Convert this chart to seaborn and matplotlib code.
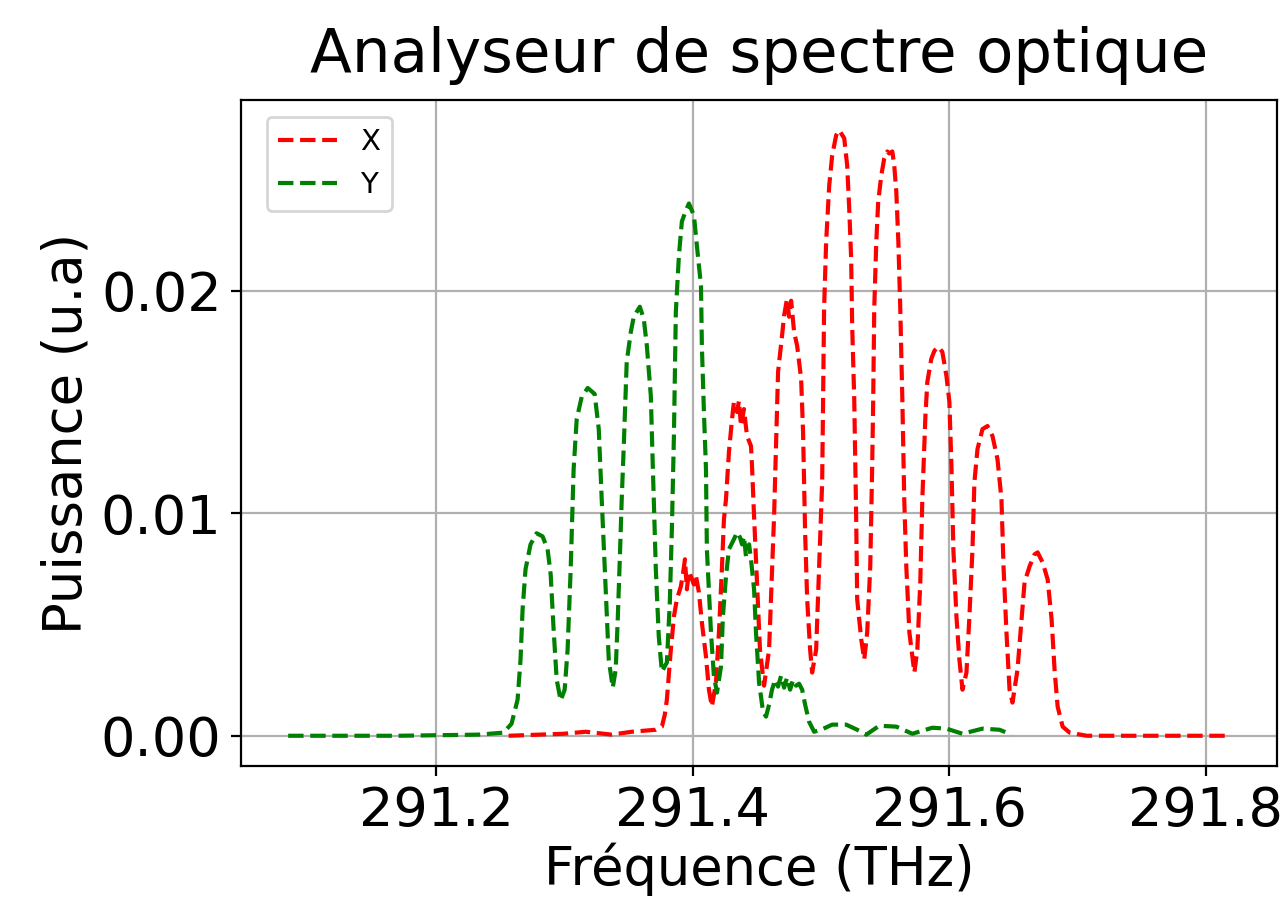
import matplotlib
matplotlib.use("Agg")
import matplotlib.pyplot as plt
import seaborn as sns
import pandas as pd
from matplotlib.ticker import FormatStrFormatter

# ---- data (frequency in THz, power in a.u.) ----
freq_y = [291.0844, 291.1703, 291.2328, 291.2523, 291.2586, 291.2633, 291.2656, 291.2672,
          291.2695, 291.2734, 291.2781, 291.2828, 291.2867, 291.2891, 291.2914, 291.2938,
          291.2969, 291.3000, 291.3023, 291.3047, 291.3070, 291.3094, 291.3133, 291.3180,
          291.3234, 291.3266, 291.3289, 291.3320, 291.3344, 291.3375, 291.3398, 291.3414,
          291.3430, 291.3445, 291.3461, 291.3484, 291.3516, 291.3539, 291.3586, 291.3617,
          291.3641, 291.3672, 291.3688, 291.3711, 291.3734, 291.3758, 291.3797, 291.3820,
          291.3836, 291.3852, 291.3867, 291.3891, 291.3914, 291.3945, 291.3969, 291.4008,
          291.4031, 291.4063, 291.4070, 291.4086, 291.4102, 291.4109, 291.4141, 291.4164,
          291.4188, 291.4219, 291.4234, 291.4258, 291.4281, 291.4320, 291.4344, 291.4367,
          291.4383, 291.4398, 291.4414, 291.4438, 291.4453, 291.4477, 291.4492, 291.4516,
          291.4547, 291.4570, 291.4594, 291.4617, 291.4641, 291.4664, 291.4688, 291.4711,
          291.4734, 291.4758, 291.4781, 291.4805, 291.4828, 291.4852, 291.4875, 291.4906,
          291.4945, 291.5000, 291.5086, 291.5195, 291.5281, 291.5352, 291.5453, 291.5586,
          291.5711, 291.5867, 291.5977, 291.6102, 291.6258, 291.6391, 291.6484]
power_y = [0.00000, 0.00000, 0.00005, 0.00014, 0.00054, 0.00162, 0.00342, 0.00568,
           0.00748, 0.00860, 0.00910, 0.00896, 0.00838, 0.00725, 0.00477, 0.00252,
           0.00158, 0.00207, 0.00387, 0.00748, 0.01198, 0.01423, 0.01523, 0.01563,
           0.01536, 0.01378, 0.01063, 0.00658, 0.00342, 0.00216, 0.00297, 0.00523,
           0.00793, 0.01063, 0.01302, 0.01680, 0.01815, 0.01883, 0.01928, 0.01874,
           0.01752, 0.01527, 0.01198, 0.00748, 0.00446, 0.00288, 0.00329, 0.00599,
           0.00928, 0.01347, 0.01905, 0.02158, 0.02311, 0.02360, 0.02392, 0.02338,
           0.02203, 0.02023, 0.01752, 0.01455, 0.01198, 0.00838, 0.00464, 0.00266,
           0.00194, 0.00311, 0.00536, 0.00716, 0.00838, 0.00883, 0.00914, 0.00892,
           0.00860, 0.00896, 0.00806, 0.00860, 0.00793, 0.00658, 0.00464, 0.00239,
           0.00108, 0.00086, 0.00140, 0.00207, 0.00252, 0.00221, 0.00270, 0.00216,
           0.00261, 0.00207, 0.00252, 0.00225, 0.00234, 0.00207, 0.00140, 0.00063,
           0.00018, 0.00027, 0.00050, 0.00050, 0.00027, 0.00005, 0.00045, 0.00041,
           0.00009, 0.00036, 0.00032, 0.00009, 0.00032, 0.00027, 0.00005]

freq_x = [291.2563, 291.2797, 291.2992, 291.3164, 291.3367, 291.3523, 291.3711, 291.3758,
          291.3781, 291.3797, 291.3828, 291.3852, 291.3875, 291.3906, 291.3922, 291.3938,
          291.3953, 291.3969, 291.3984, 291.4008, 291.4023, 291.4047, 291.4070, 291.4102,
          291.4125, 291.4148, 291.4180, 291.4203, 291.4227, 291.4242, 291.4258, 291.4281,
          291.4305, 291.4320, 291.4344, 291.4359, 291.4375, 291.4398, 291.4422, 291.4453,
          291.4461, 291.4477, 291.4500, 291.4523, 291.4555, 291.4594, 291.4609, 291.4633,
          291.4648, 291.4664, 291.4695, 291.4711, 291.4734, 291.4750, 291.4766, 291.4789,
          291.4813, 291.4844, 291.4859, 291.4875, 291.4891, 291.4914, 291.4930, 291.4961,
          291.4984, 291.5008, 291.5016, 291.5023, 291.5039, 291.5063, 291.5086, 291.5117,
          291.5141, 291.5180, 291.5203, 291.5219, 291.5234, 291.5242, 291.5258, 291.5273,
          291.5281, 291.5313, 291.5336, 291.5359, 291.5383, 291.5398, 291.5406, 291.5414,
          291.5430, 291.5445, 291.5469, 291.5492, 291.5516, 291.5531, 291.5555, 291.5570,
          291.5586, 291.5602, 291.5617, 291.5633, 291.5648, 291.5664, 291.5688, 291.5727,
          291.5750, 291.5773, 291.5789, 291.5813, 291.5828, 291.5859, 291.5883, 291.5914,
          291.5945, 291.5977, 291.6000, 291.6016, 291.6031, 291.6055, 291.6078, 291.6102,
          291.6133, 291.6156, 291.6180, 291.6195, 291.6219, 291.6258, 291.6297, 291.6336,
          291.6375, 291.6406, 291.6422, 291.6445, 291.6469, 291.6492, 291.6531, 291.6563,
          291.6586, 291.6625, 291.6664, 291.6688, 291.6727, 291.6766, 291.6797, 291.6820,
          291.6844, 291.6883, 291.6938, 291.7070, 291.7563, 291.8188]
power_x = [0.00000, 0.00005, 0.00009, 0.00018, 0.00005, 0.00018, 0.00027, 0.00041,
           0.00095, 0.00162, 0.00387, 0.00536, 0.00613, 0.00671, 0.00725, 0.00793,
           0.00658, 0.00739, 0.00716, 0.00680, 0.00721, 0.00644, 0.00509, 0.00356,
           0.00207, 0.00131, 0.00239, 0.00464, 0.00761, 0.00973, 0.01063, 0.01275,
           0.01423, 0.01500, 0.01455, 0.01505, 0.01392, 0.01468, 0.01347, 0.01302,
           0.01212, 0.00986, 0.00689, 0.00387, 0.00225, 0.00387, 0.00613, 0.00986,
           0.01302, 0.01635, 0.01797, 0.01887, 0.01964, 0.01883, 0.01955, 0.01815,
           0.01752, 0.01604, 0.01365, 0.00914, 0.00613, 0.00387, 0.00284, 0.00387,
           0.00761, 0.01140, 0.01545, 0.01919, 0.02221, 0.02473, 0.02608, 0.02698,
           0.02721, 0.02685, 0.02563, 0.02369, 0.02144, 0.01842, 0.01514, 0.00986,
           0.00613, 0.00432, 0.00342, 0.00464, 0.00761, 0.01212, 0.01514, 0.01919,
           0.02221, 0.02401, 0.02518, 0.02595, 0.02626, 0.02617, 0.02626, 0.02563,
           0.02446, 0.02221, 0.01919, 0.01514, 0.01063, 0.00761, 0.00464, 0.00284,
           0.00387, 0.00689, 0.01063, 0.01437, 0.01590, 0.01694, 0.01730, 0.01748,
           0.01725, 0.01617, 0.01500, 0.01212, 0.00838, 0.00536, 0.00342, 0.00207,
           0.00284, 0.00536, 0.00838, 0.01140, 0.01288, 0.01378, 0.01392, 0.01347,
           0.01243, 0.01063, 0.00761, 0.00464, 0.00207, 0.00149, 0.00297, 0.00523,
           0.00689, 0.00761, 0.00815, 0.00824, 0.00779, 0.00703, 0.00523, 0.00297,
           0.00131, 0.00041, 0.00014, 0.00000, 0.00000, 0.00000]

x_ticks = [291.2, 291.4, 291.6, 291.8]
y_ticks = [0.00, 0.01, 0.02]

df_x = pd.DataFrame({"f": freq_x, "p": power_x})
df_y = pd.DataFrame({"f": freq_y, "p": power_y})

fig = plt.figure(figsize=(6.435, 4.505), dpi=200)
ax = fig.add_axes([0.1873, 0.1498, 0.8050, 0.7392])

sns.lineplot(data=df_x, x="f", y="p", ax=ax, color="red", linestyle="--",
             linewidth=1.5, label="X", estimator=None, sort=False)
sns.lineplot(data=df_y, x="f", y="p", ax=ax, color="green", linestyle="--",
             linewidth=1.5, label="Y", estimator=None, sort=False)

ax.set_xticks(x_ticks)
ax.set_yticks(y_ticks)
ax.xaxis.set_major_formatter(FormatStrFormatter("%.1f"))
ax.yaxis.set_major_formatter(FormatStrFormatter("%.2f"))
ax.tick_params(labelsize=19.5)
ax.grid(True)
ax.set_xlabel("Fréquence (THz)", fontsize=19, labelpad=2)
ax.set_ylabel("Puissance (u.a)", fontsize=19, labelpad=3)
ax.set_title("Analyseur de spectre optique", fontsize=22, pad=10)
ax.legend(loc="upper left", fontsize=10.5, bbox_to_anchor=(0.0106, 0.997))

fig.savefig("out.png", dpi=200)
